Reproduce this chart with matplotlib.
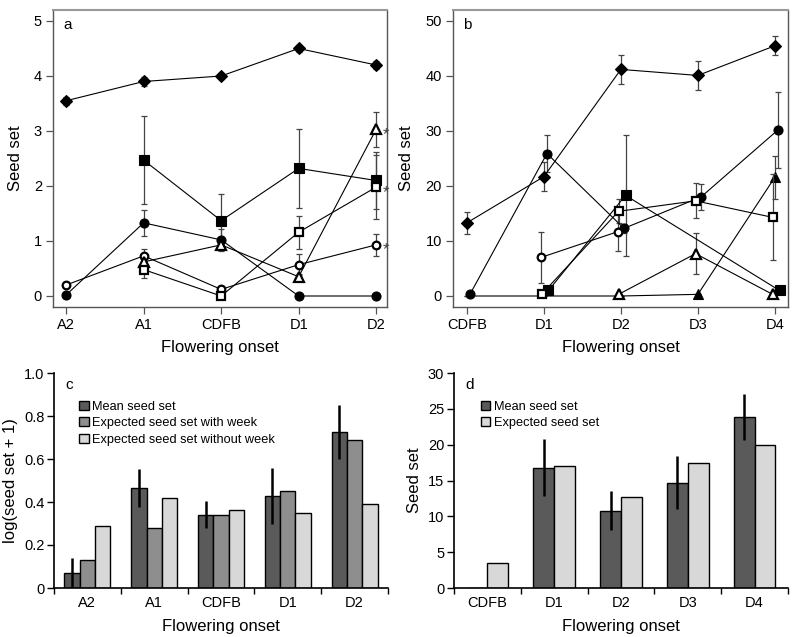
import numpy as np
import matplotlib
matplotlib.use('Agg')
import matplotlib.pyplot as plt

matplotlib.rcParams['font.family'] = ['Liberation Sans', 'DejaVu Sans']
matplotlib.rcParams['xtick.labelsize'] = 10.5
matplotlib.rcParams['ytick.labelsize'] = 10.5
matplotlib.rcParams['axes.labelsize'] = 12

# ---- panel a data (seed set per flowering onset) ----
cats_a = ['A2', 'A1', 'CDFB', 'D1', 'D2']
a_diamond = [3.55, 3.9, 4.0, 4.5, 4.2]
a_diamond_err = [0.07, 0.08, 0.06, 0.07, 0.07]
a_fsquare = [np.nan, 2.47, 1.37, 2.32, 2.1]
a_fsquare_err = [np.nan, 0.8, 0.48, 0.72, 0.52]
a_fcircle = [0.02, 1.33, 1.02, 0.0, 0.0]
a_fcircle_err = [0.0, 0.24, 0.2, 0.0, 0.0]
a_ocircle = [0.2, 0.73, 0.12, 0.57, 0.93]
a_ocircle_err = [0.05, 0.12, 0.05, 0.19, 0.2]
a_otriangle = [np.nan, 0.62, 0.93, 0.35, 3.03]
a_otriangle_err = [np.nan, 0.1, 0.1, 0.05, 0.32]
a_osquare = [np.nan, 0.48, 0.0, 1.16, 1.98]
a_osquare_err = [np.nan, 0.15, 0.0, 0.3, 0.58]

# ---- panel b data ----
cats_b = ['CDFB', 'D1', 'D2', 'D3', 'D4']
b_ftriangle = [0.0, 0.0, 0.0, 0.3, 21.6]
b_ftriangle_err = [0.0, 0.0, 0.0, 0.0, 3.9]
b_diamond = [13.3, 21.7, 41.2, 40.1, 45.5]
b_diamond_err = [2.0, 2.6, 2.7, 2.7, 1.7]
b_fcircle = [0.3, 25.9, 12.3, 18.0, 30.2]
b_fcircle_err = [0.0, 3.4, 0.8, 2.3, 6.9]
b_ocircle = [np.nan, 7.0, 11.7, np.nan, np.nan]
b_ocircle_err = [np.nan, 4.6, 3.5, np.nan, np.nan]
b_fsquare = [np.nan, 1.0, 18.3, np.nan, 1.0]
b_fsquare_err = [np.nan, 0.0, 11.0, np.nan, 0.0]
b_osquare = [np.nan, 0.3, 15.4, 17.3, 14.3]
b_osquare_err = [np.nan, 0.0, 2.2, 3.2, 7.8]
b_otriangle = [np.nan, np.nan, 0.3, 7.7, 0.3]
b_otriangle_err = [np.nan, np.nan, 0.0, 3.7, 0.0]

# ---- panel c data ----
cats_c = ['A2', 'A1', 'CDFB', 'D1', 'D2']
c_mean = [0.07, 0.465, 0.34, 0.43, 0.725]
c_mean_err = [0.07, 0.09, 0.063, 0.13, 0.125]
c_with_week = [0.13, 0.28, 0.34, 0.45, 0.69]
c_without_week = [0.29, 0.42, 0.365, 0.35, 0.39]

# ---- panel d data ----
cats_d = ['CDFB', 'D1', 'D2', 'D3', 'D4']
d_mean = [0.0, 16.8, 10.8, 14.7, 23.9]
d_mean_err = [0.0, 4.0, 2.75, 3.65, 3.2]
d_expected = [3.5, 17.0, 12.7, 17.4, 20.0]

DARK = '#5a5a5a'
MID = '#8e8e8e'
LIGHT = '#d8d8d8'

fig = plt.figure(figsize=(8, 6.37), dpi=100)
W, H = 800.0, 637.0
def box(l, t, r, b):
    return [l / W, 1 - b / H, (r - l) / W, (b - t) / H]

ax_a = fig.add_axes(box(53, 10, 387, 307))
ax_b = fig.add_axes(box(453, 10, 788, 307))
ax_c = fig.add_axes(box(54, 373, 388, 588))
ax_d = fig.add_axes(box(454, 373, 788, 588))


def line_series(ax, vals, errs, marker, filled, dx=0.0, ms=6.5, z=3, every=None):
    x = np.arange(len(vals)) + dx
    v = np.array(vals, dtype=float)
    e = np.array(errs, dtype=float)
    ok = ~np.isnan(v)
    fc = 'black' if filled else 'white'
    ax.errorbar(x[ok], v[ok], yerr=e[ok], fmt='none', ecolor='#444444',
                elinewidth=0.9, capsize=2.5, capthick=0.9, zorder=z - 1)
    ax.plot(x[ok], v[ok], '-', color='black', lw=0.8, marker=marker, ms=ms,
            mfc=fc, mec='black', mew=1.6 if not filled else 0.8, zorder=z,
            markevery=every)


def frame_style(ax):
    for s in ['left', 'bottom', 'right']:
        ax.spines[s].set_color('#555555')
        ax.spines[s].set_linewidth(1.0)
    ax.spines['top'].set_color('#999999')
    ax.spines['top'].set_linewidth(1.5)
    ax.tick_params(direction='out', length=5, width=0.9, color='#555555', pad=3)
    ax.tick_params(top=False, right=False)
    ax.set_xlabel('Flowering onset', labelpad=6)
    ax.set_ylabel('Seed set', labelpad=8)


# panel a
line_series(ax_a, a_diamond, a_diamond_err, 'D', True, ms=6)
line_series(ax_a, a_fsquare, a_fsquare_err, 's', True)
line_series(ax_a, a_fcircle, a_fcircle_err, 'o', True)
line_series(ax_a, a_ocircle, a_ocircle_err, 'o', False, ms=5.5)
line_series(ax_a, a_otriangle, a_otriangle_err, '^', False, ms=6.5)
line_series(ax_a, a_osquare, a_osquare_err, 's', False, ms=5.5)
for v in [a_otriangle[4], a_osquare[4], a_ocircle[4]]:
    ax_a.annotate('*', xy=(4, v), xytext=(5, -7), textcoords='offset points',
                  fontsize=12, color='#444444')
ax_a.set_xlim(-0.17, 4.14)
ax_a.set_ylim(-0.2, 5.2)
ax_a.set_xticks(range(5))
ax_a.set_xticklabels(cats_a)
ax_a.set_yticks(range(6))
ax_a.text(0.03, 0.95, 'a', transform=ax_a.transAxes, fontsize=11, va='center')
frame_style(ax_a)

# panel b
line_series(ax_b, b_ftriangle, b_ftriangle_err, '^', True, z=2, every=[3, 4])
line_series(ax_b, b_diamond, b_diamond_err, 'D', True, ms=6)
line_series(ax_b, b_fcircle, b_fcircle_err, 'o', True, dx=0.04)
line_series(ax_b, b_ocircle, b_ocircle_err, 'o', False, ms=5.5, dx=-0.04)
line_series(ax_b, b_fsquare, b_fsquare_err, 's', True, dx=0.06)
line_series(ax_b, b_osquare, b_osquare_err, 's', False, ms=5.5, dx=-0.03)
line_series(ax_b, b_otriangle, b_otriangle_err, '^', False, ms=6.5, dx=-0.03)
ax_b.set_xlim(-0.18, 4.17)
ax_b.set_ylim(-2, 52)
ax_b.set_xticks(range(5))
ax_b.set_xticklabels(cats_b)
ax_b.set_yticks(range(0, 51, 10))
ax_b.text(0.03, 0.95, 'b', transform=ax_b.transAxes, fontsize=11, va='center')
frame_style(ax_b)


def bar_style(ax, cats, ylim, yticks, yticklabels, ylabel, letter):
    ax.spines['top'].set_visible(False)
    ax.spines['right'].set_visible(False)
    ax.spines['left'].set_linewidth(1.2)
    ax.spines['bottom'].set_linewidth(1.2)
    ax.set_xlim(0, 5)
    ax.set_ylim(*ylim)
    ax.set_yticks(yticks)
    ax.set_yticklabels(yticklabels)
    ax.set_xticks(range(6))
    ax.set_xticklabels([])
    ax.set_xticks(np.arange(5) + 0.5, minor=True)
    ax.set_xticklabels(cats, minor=True)
    ax.tick_params(axis='x', which='major', direction='out', length=4, width=1)
    ax.tick_params(axis='x', which='minor', length=0, pad=6)
    ax.tick_params(axis='y', direction='out', length=5, width=1, pad=2)
    ax.set_xlabel('Flowering onset', labelpad=6)
    ax.set_ylabel(ylabel, labelpad=4)
    ax.text(0.035, 0.944, letter, transform=ax.transAxes, fontsize=11, va='center')


leg_kw = dict(loc='upper left', frameon=False, handlelength=0.75,
              handleheight=0.75, handletextpad=0.3, labelspacing=0.35,
              fontsize=9.2, borderaxespad=0, borderpad=0)

# panel c
xc = np.arange(5) + 0.5
wc = 0.23
ax_c.bar(xc - wc, c_mean, wc, color=DARK, edgecolor='black', lw=1.0,
         label='Mean seed set', zorder=2)
ax_c.bar(xc, c_with_week, wc, color=MID, edgecolor='black', lw=1.0,
         label='Expected seed set with week', zorder=2)
ax_c.bar(xc + wc, c_without_week, wc, color=LIGHT, edgecolor='black', lw=1.0,
         label='Expected seed set without week', zorder=2)
ax_c.errorbar(xc - wc, c_mean, yerr=c_mean_err, fmt='none', ecolor='black',
              elinewidth=1.8, capsize=0, zorder=3)
bar_style(ax_c, cats_c, (0, 1.0), [0, 0.2, 0.4, 0.6, 0.8, 1.0],
          ['0', '0.2', '0.4', '0.6', '0.8', '1.0'], 'log(seed set + 1)', 'c')
ax_c.legend(bbox_to_anchor=(0.075, 0.872), **leg_kw)

# panel d
xd = np.arange(5) + 0.5
wd = 0.31
ax_d.bar(xd - wd / 2, d_mean, wd, color=DARK, edgecolor='black', lw=1.0,
         label='Mean seed set', zorder=2)
ax_d.bar(xd + wd / 2, d_expected, wd, color=LIGHT, edgecolor='black', lw=1.0,
         label='Expected seed set', zorder=2)
err_x = (xd - wd / 2)[1:]
ax_d.errorbar(err_x, d_mean[1:], yerr=d_mean_err[1:], fmt='none',
              ecolor='black', elinewidth=1.8, capsize=0, zorder=3)
bar_style(ax_d, cats_d, (0, 30), range(0, 31, 5),
          [str(v) for v in range(0, 31, 5)], 'Seed set', 'd')
ax_d.legend(bbox_to_anchor=(0.08, 0.872), **leg_kw)

fig.savefig('out.png', dpi=100)
